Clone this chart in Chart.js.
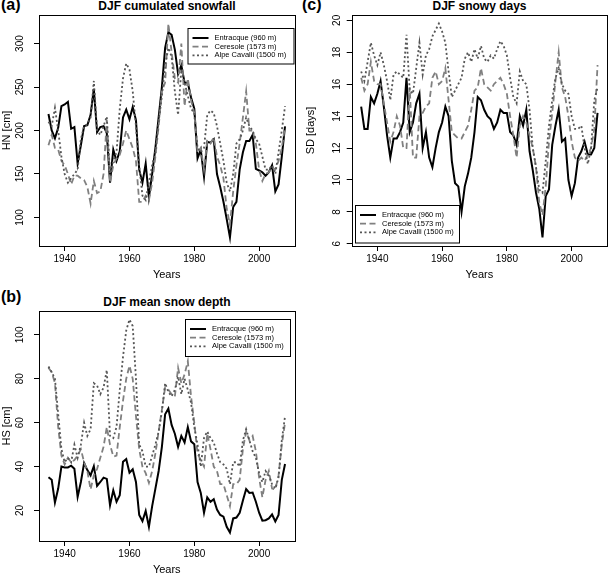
<!DOCTYPE html>
<html>
<head>
<title>DJF snow indices</title>
<script src="https://cdn.jsdelivr.net/npm/chart.js"></script>
<style>
  body { margin:0; background:#fff; overflow:hidden; font-family:"Liberation Sans", Arial, sans-serif; }
  canvas, .tag, .ttl { position:absolute; }
  .tag { font-weight:bold; font-size:16px; line-height:16px; }
  .ttl { font-weight:bold; font-size:12px; line-height:12px; text-align:center; }
</style>
</head>
<body>
<div class="tag" style="left:1px;top:-3px">(a)</div>
<div class="ttl" style="left:39px;width:256px;top:0">DJF cumulated snowfall</div>
<div class="tag" style="left:302px;top:-3px">(c)</div>
<div class="ttl" style="left:352px;width:255px;top:0">DJF snowy days</div>
<div class="tag" style="left:1px;top:289px">(b)</div>
<div class="ttl" style="left:39px;width:256px;top:296px">DJF mean snow depth</div>

<canvas id="hnChart" width="300" height="287" style="left:0;top:0"></canvas>
<canvas id="sdChart" width="309" height="287" style="left:300px;top:0"></canvas>
<canvas id="hsChart" width="300" height="295" style="left:0;top:287px"></canvas>

<script>
// winters 1935-2008
const years = [1935,1936,1937,1938,1939,1940,1941,1942,1943,1944,1945,1946,1947,1948,1949,1950,1951,1952,1953,1954,
  1955,1956,1957,1958,1959,1960,1961,1962,1963,1964,1965,1966,1967,1968,1969,1970,1971,1972,1973,1974,
  1975,1976,1977,1978,1979,1980,1981,1982,1983,1984,1985,1986,1987,1988,1989,1990,1991,1992,1993,1994,
  1995,1996,1997,1998,1999,2000,2001,2002,2003,2004,2005,2006,2007,2008];
const xTicks = [1940, 1960, 1980, 2000];

// (a) HN cumulated snowfall [cm]
const hnEntracque = [219,200,191,203,228,230,233,202,204,162, 183,205,206,218,248,198,204,205,197,140,
  178,165,176,215,224,213,227,212,155,140, 162,123,150,180,215,250,295,313,310,293,
  265,275,255,255,238,225,168,178,147,187, 186,190,150,135,118,98,77,112,118,155,
  175,188,188,195,156,154,152,148,152,160, 130,138,170,205];
const hnCeresole = [183,195,180,178,165,160,150,138,148,148, 145,143,135,116,142,128,130,150,212,140,
  160,168,172,185,200,190,180,165,118,118, 125,120,140,170,205,245,255,323,290,260,
  255,300,228,260,235,220,175,180,155,188, 185,192,170,160,145,110,92,130,160,185,
  215,245,200,200,185,155,142,150,152,158, 155,165,180,205];
const hnCavalli = [210,205,226,200,170,150,140,145,150,155, 190,205,207,215,257,200,195,205,216,150,
  165,175,225,260,277,270,245,205,160,125, 120,140,160,175,210,240,275,295,285,245,
  218,270,255,240,225,220,180,175,180,218, 223,220,205,185,165,140,130,150,185,190,
  200,215,205,200,190,185,170,155,155,160, 150,175,200,228];
const hnTicks = [100, 150, 200, 250, 300];

// (c) SD snowy days
const sdEntracque = [14.6,13.2,13.2,15.2,14.8,15.4,16.2,14.6,12.8,11.4, 12.6,12.6,13.0,13.6,16.4,13.0,13.6,14.8,15.4,12.0,
  13.0,11.4,10.8,12.0,13.0,13.6,14.6,14.0,11.2,9.8, 9.6,8.0,9.6,10.4,11.4,13.0,15.2,15.0,14.4,14.0,
  13.8,13.2,13.6,14.4,14.2,14.2,13.0,12.8,12.2,14.0, 13.4,14.4,11.8,10.6,9.2,8.2,6.4,9.0,9.4,12.2,
  13.4,14.4,12.4,12.6,10.0,9.0,9.8,11.4,11.8,12.4, 11.6,11.6,12.0,14.2];
const sdCeresole = [16.4,15.6,16.0,17.4,16.2,16.0,16.0,14.8,13.6,12.4, 13.0,14.0,13.4,12.0,12.0,15.8,11.4,11.4,14.0,14.2,
  14.6,14.8,16.4,16.8,16.0,16.2,17.0,15.0,13.0,12.8, 12.6,12.6,13.0,13.4,14.4,15.6,15.8,17.0,16.0,15.8,
  15.6,16.0,16.2,16.4,16.0,15.4,14.0,12.8,11.4,13.4, 14.0,13.6,12.8,12.0,10.8,8.6,7.8,9.6,12.4,14.2,
  16.2,18.0,15.8,15.2,14.0,12.4,11.4,11.2,11.4,11.2, 11.6,12.0,13.2,17.2];
const sdCavalli = [16.8,16.2,17.4,18.6,17.8,17.2,18.0,17.2,16.2,15.0, 16.6,16.8,16.6,16.4,19.1,15.6,15.4,17.0,18.6,16.6,
  17.8,18.2,19.0,19.4,19.8,19.3,18.6,16.8,15.2,15.6, 16.0,16.4,17.6,18.0,17.4,18.2,17.6,18.4,17.6,17.4,
  17.8,17.6,18.2,18.7,18.4,17.8,16.4,15.2,14.8,16.8, 16.2,16.0,14.4,12.0,10.8,9.4,9.2,11.2,13.4,15.0,
  16.4,17.0,16.0,15.6,15.4,14.0,13.2,13.2,13.4,12.0, 11.0,12.0,15.0,15.8];
const sdTicks = [6, 8, 10, 12, 14, 16, 18, 20];

// (b) HS mean snow depth [cm]
const hsEntracque = [35.2,34,23.6,30,40,39.6,39.6,40.4,39,26.2, 33,41.6,38.4,36,40.2,31.2,33,35,34.4,22.4,
  29.2,24,27,42.2,43.4,37.2,38.8,33,18,15.2, 19.8,12.6,22,30,38,49,63.8,66.4,59,55,
  49,54,51,58,51.5,50.2,33,28,19,26, 24,25.2,20.4,18,17.2,12.6,10,16.4,16.8,19,
  24.6,29.8,28,28.2,24,19,15.4,15.6,16.4,18.2, 15,18,34,41.2];
const hsCeresole = [85,83,78,58,45,41,44,42,43,45, 48,42,38,29.6,36,39,44,49,58,50,
  44.6,45,58,70,80,86,80,63,48,40, 37,32.6,38,46,56,66,76,75,73,72,
  85,78,82,88,72,60,46,43,40,55, 48,40,38,32,32,27,22,32,32,34,
  48,56,52,54,47,35,26,34,38,30, 29.6,36,50,60];
const hsCavalli = [85.6,83,80,64,48,42,44,42,50,44, 50,60,54,57,78,77,73,76,84,54,
  53,58,75,90,102,107,104,80,50,47, 40,40,45,50,56,65,78,74,72,75,
  81,73,80,75,69,58,50,40,53,56, 53,51,46,42,41,39,32,42,42,40,
  52,57,52,47,44,37,33,38,36,32, 30,35,52,63];
const hsTicks = [20, 40, 60, 80, 100];

Chart.defaults.font.family = '"Liberation Sans", Arial, sans-serif';
Chart.defaults.color = '#000';

// R-style axis range: data range stretched by 4% on each side
function rlim(...arrs) {
  const all = [].concat(...arrs);
  const lo = Math.min(...all), hi = Math.max(...all);
  const d = (hi - lo) * 0.04;
  return [lo - d, hi + d];
}
const xLim = rlim(years);

// frame round the plot region, like R's box()
const frame = {
  id: 'frame',
  afterDatasetsDraw(chart) {
    const { ctx, chartArea: a } = chart;
    ctx.save();
    ctx.strokeStyle = '#000';
    ctx.lineWidth = 1;
    ctx.strokeRect(Math.round(a.left) + 0.5, Math.round(a.top) + 0.5,
      Math.round(a.right - a.left), Math.round(a.bottom - a.top));
    ctx.restore();
  }
};

// boxed legend inside the plot
const boxLegend = {
  id: 'boxLegend',
  afterDraw(chart, args, o) {
    const ctx = chart.ctx;
    ctx.save();
    ctx.fillStyle = '#fff';
    ctx.fillRect(o.x, o.y, o.w, o.h);
    ctx.strokeStyle = '#000';
    ctx.lineWidth = 1;
    ctx.strokeRect(o.x + 0.5, o.y + 0.5, o.w, o.h);
    ctx.font = '7.5px "Liberation Sans", Arial, sans-serif';
    ctx.textBaseline = 'middle';
    chart.data.datasets.forEach((ds, i) => {
      const ry = o.y + 10 + i * 8.7;
      ctx.strokeStyle = ds.borderColor;
      ctx.lineWidth = ds.borderWidth;
      ctx.setLineDash(ds.borderDash);
      ctx.beginPath();
      ctx.moveTo(o.x + 5, ry);
      ctx.lineTo(o.x + 21, ry);
      ctx.stroke();
      ctx.setLineDash([]);
      ctx.fillStyle = '#000';
      ctx.fillText(ds.label, o.x + 27, ry);
    });
    ctx.restore();
  }
};

function series(label, vals, color, dash, width, order) {
  return {
    label: label,
    data: years.map((yr, i) => ({ x: yr, y: vals[i] })),
    borderColor: color,
    borderDash: dash,
    borderWidth: width,
    order: order,
    pointRadius: 0,
    tension: 0,
    fill: false
  };
}

function makeChart(id, p) {
  const yLim = rlim(p.e, p.c, p.a);
  const tickGrid = { display: true, drawOnChartArea: false, drawTicks: true, tickLength: 5, color: '#000', lineWidth: 1 };
  return new Chart(document.getElementById(id), {
    type: 'line',
    data: {
      datasets: [
        series('Entracque (960 m)', p.e, '#000000', [], 2, 3),
        series('Ceresole (1573 m)', p.c, '#808080', [6, 3.5], 1.8, 2),
        series('Alpe Cavalli (1500 m)', p.a, '#555555', [2, 2.5], 1.8, 1)
      ]
    },
    options: {
      responsive: false,
      animation: false,
      layout: { padding: { left: 0, top: p.top, right: p.right, bottom: 0 } },
      plugins: {
        legend: { display: false },
        tooltip: { enabled: false },
        boxLegend: p.legend
      },
      scales: {
        x: {
          type: 'linear',
          min: xLim[0],
          max: xLim[1],
          afterBuildTicks: s => { s.ticks = xTicks.map(v => ({ value: v })); },
          afterFit: s => { s.height = 41; },
          grid: tickGrid,
          border: { display: false },
          ticks: { font: { size: 10 }, padding: 2.5, maxRotation: 0, callback: v => String(v) },
          title: { display: true, text: 'Years', font: { size: 11 }, padding: { top: 0, bottom: 5.5 } }
        },
        y: {
          type: 'linear',
          min: yLim[0],
          max: yLim[1],
          afterBuildTicks: s => { s.ticks = p.ticks.map(v => ({ value: v })); },
          afterFit: s => { s.width = p.left; },
          grid: tickGrid,
          border: { display: false },
          ticks: { font: { size: 10 }, minRotation: 90, maxRotation: 90, crossAlign: 'center', padding: p.tickPad },
          title: { display: true, text: p.yTitle, font: { size: 11 }, padding: { top: p.titlePad, bottom: 0 } }
        }
      }
    },
    plugins: [frame, boxLegend]
  });
}

makeChart('hnChart', {
  e: hnEntracque, c: hnCeresole, a: hnCavalli, ticks: hnTicks, yTitle: 'HN [cm]',
  left: 39, right: 5.5, top: 15, tickPad: 5.7, titlePad: 0,
  legend: { x: 187.5, y: 28, w: 106, h: 35.5 }
});
makeChart('sdChart', {
  e: sdEntracque, c: sdCeresole, a: sdCavalli, ticks: sdTicks, yTitle: 'SD [days]',
  left: 51.7, right: 2, top: 15, tickPad: 3.4, titlePad: 4.4,
  legend: { x: 55, y: 205, w: 104, h: 37.5 }
});
makeChart('hsChart', {
  e: hsEntracque, c: hsCeresole, a: hsCavalli, ticks: hsTicks, yTitle: 'HS [cm]',
  left: 39, right: 5.5, top: 24, tickPad: 5.7, titlePad: 0,
  legend: { x: 185, y: 32, w: 105, h: 37 }
});
</script>
</body>
</html>
